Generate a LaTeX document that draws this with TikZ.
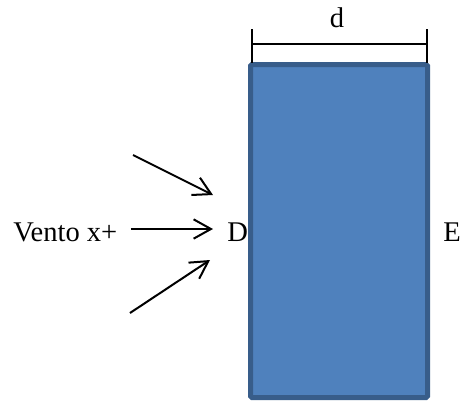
\documentclass[tikz,border=0pt]{standalone}
\usepackage{fontspec}
\setmainfont{Liberation Serif}
\usepackage{tikz}
\usetikzlibrary{arrows.meta, positioning, calc}
\definecolor{blocoFill}{HTML}{4F81BD}
\definecolor{blocoBorda}{HTML}{385D8A}

\begin{document}
\begin{tikzpicture}[x=0.75pt, y=-0.75pt, font=\fontsize{21.4}{25}\selectfont,
    seta/.style={-{Straight Barb[length=13pt, width=14.5pt]}, line width=1.5pt},
    cota/.style={line width=1.5pt},
    rotulo/.style={inner sep=0pt, anchor=base west}]
    \useasboundingbox (0,0) rectangle (472,401);

    % Bloco (edificio visto de cima)
    \draw[blocoBorda, fill=blocoFill, line width=3.75pt, rounded corners=1pt] (250.5,64.5) rectangle (427.5,397.5);

    % Cota da largura d
    \coordinate (cotaE) at (251.5,43.5);
    \coordinate (cotaD) at (426.5,43.5);
    \draw[cota] ($(cotaE)+(0,-14.5)$) -- ($(cotaE)+(0,19.5)$);
    \draw[cota] ($(cotaD)+(0,-14.5)$) -- ($(cotaD)+(0,19.5)$);
    \draw[cota] (cotaE) -- (cotaD);
    \node[inner sep=0pt, anchor=base] (largura) at (337,27) {d};

    % Faces e rotulo do vento
    \node[rotulo] (vento) at (13,241.5) {Vento x+};
    \node[rotulo] (D) at (227,241.5) {D};
    \node[rotulo] (E) at (443,241.5) {E};

    % Setas do vento
    \coordinate (sup) at (133,155);
    \coordinate (supFim) at (213,195);
    \coordinate (inf) at (130,313);
    \coordinate (infFim) at (210,260);
    \draw[seta] (sup) -- (supFim);
    \draw[seta, shorten <=10pt, shorten >=10.5pt] (vento.east |- 0,229) -- (D.west |- 0,229);
    \draw[seta] (inf) -- (infFim);
\end{tikzpicture}
\end{document}
